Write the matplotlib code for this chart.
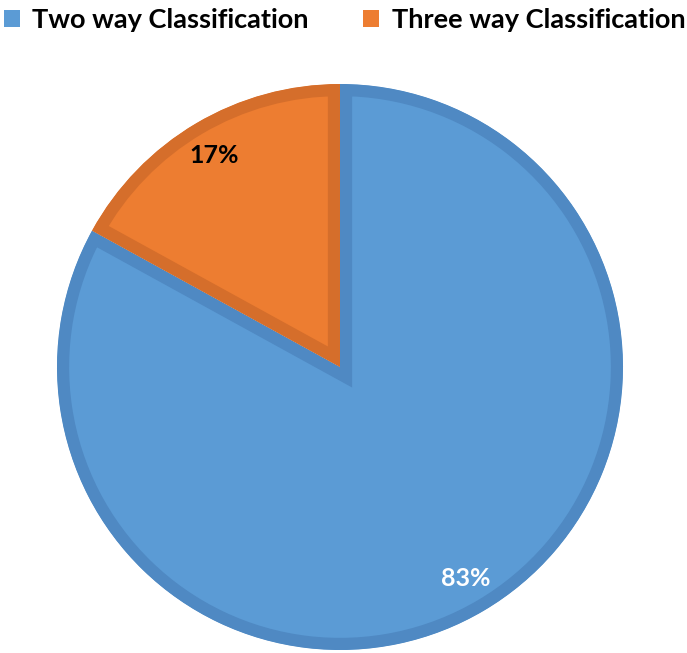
import matplotlib
matplotlib.use("Agg")
import matplotlib.pyplot as plt
from matplotlib.patches import Patch, PathPatch

categories = ["Two way Classification", "Three way Classification"]
values = [83, 17]
face_colors = ["#5B9BD5", "#ED7D31"]
edge_colors = ["#4F89C3", "#D56E2B"]
label_colors = ["white", "black"]

W, H = 687, 653
fig = plt.figure(figsize=(W / 100, H / 100), dpi=100)
ax = fig.add_axes([0, 0, 1, 1])

cx, cy, r = 340, H - 367, 283
wedges, texts, autotexts = ax.pie(
    values, colors=face_colors, startangle=90, counterclock=False,
    center=(cx, cy), radius=r, autopct="%d%%", pctdistance=0.87,
    wedgeprops=dict(linewidth=17.5),
    textprops=dict(fontsize=18, fontweight="bold", family="Lato"))
ax.set_xlim(0, W)
ax.set_ylim(0, H)
ax.set_aspect("equal")
ax.axis("off")
for w, ec in zip(wedges, edge_colors):
    w.set_edgecolor(ec)
    clip = PathPatch(w.get_path(), transform=ax.transData,
                     facecolor="none", edgecolor="none")
    ax.add_patch(clip)
    w.set_clip_on(True)
    w.set_clip_path(clip)
for t, c in zip(autotexts, label_colors):
    t.set_color(c)

handles = [Patch(facecolor=c, edgecolor="none") for c in face_colors]
leg = fig.legend(handles, categories, loc="upper left",
                 bbox_to_anchor=(4 / W, 1 - 8 / H), ncol=2, frameon=False,
                 borderpad=0, borderaxespad=0,
                 handlelength=0.6, handleheight=0.6, handletextpad=0.45,
                 columnspacing=2.0,
                 prop=dict(size=19.5, weight="bold", family="Lato"))

fig.savefig("out.png", dpi=100)
